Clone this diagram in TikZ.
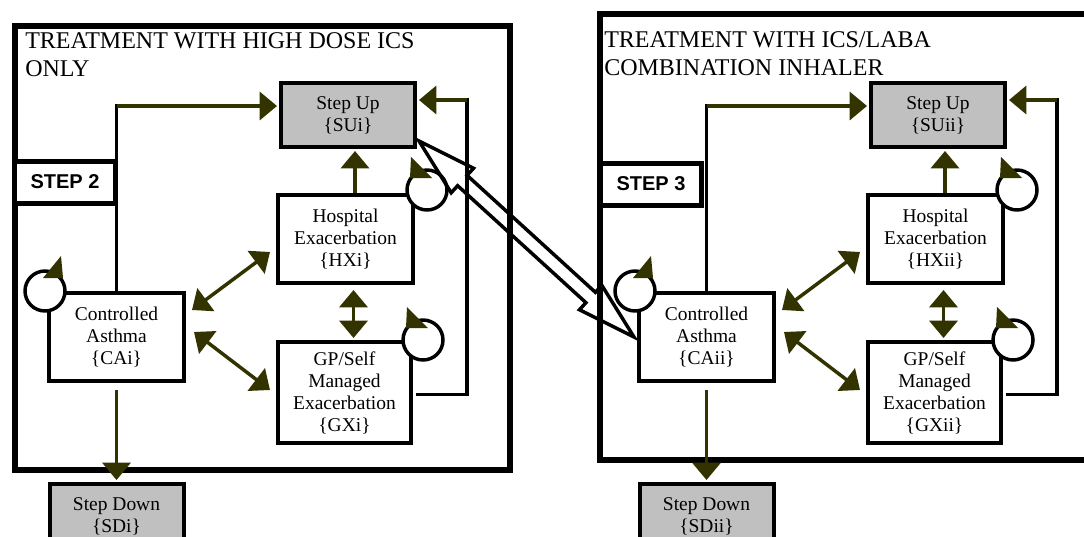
\documentclass[tikz,border=0pt]{standalone}
\usepackage{fontspec}
\setmainfont{Liberation Serif}
\newfontfamily\labelsans{Liberation Sans}
\usetikzlibrary{arrows.meta,calc}
\definecolor{arrowolive}{HTML}{333300}
\definecolor{boxgray}{HTML}{C0C0C0}

\begin{document}
\begin{tikzpicture}[x=0.75pt,y=-0.75pt,
  statebox/.style={draw=black, line width=3pt, fill=white, align=center,
    inner sep=0pt, font=\fontsize{14.6}{16.5}\selectfont},
  endbox/.style={statebox, fill=boxgray, minimum width=100.5pt, minimum height=48pt},
  flow/.style={draw=arrowolive, line width=2.6pt,
    -{Triangle[length=13pt,width=21pt]}},
  both/.style={draw=arrowolive, line width=2.6pt,
    {Triangle[length=13pt,width=21pt]}-{Triangle[length=13pt,width=21pt]}},
  wire/.style={draw=black, line width=2.4pt, line cap=rect},
  loopring/.style={draw=black, line width=2.6pt, fill=white},
  frame/.style={draw=black, line width=4pt},
  title/.style={anchor=base west, inner sep=0pt, font=\fontsize{18}{21}\selectfont},
  steplabel/.style={draw=black, line width=3.75pt, fill=white,
    minimum width=75.75pt, minimum height=31.5pt, inner sep=0pt,
    font=\labelsans\bfseries\fontsize{15}{18}\selectfont},
  hollow/.style={draw=black, line width=2.6pt, line join=miter}
]
\useasboundingbox (0,0) rectangle (1084,536);
\fill[white] (0,0) rectangle (1084,536);
\clip (0,0) rectangle (1084,536);

% treatment frames
\draw[frame] (15,26) rectangle (510,470);
\draw[frame] (600,14) rectangle (1100,460);

\node[title] (T1a) at (25,48) {TREATMENT WITH HIGH DOSE ICS};
\node[title] (T1b) at (25,76) {ONLY};
\node[title] (T2a) at (604,47) {TREATMENT WITH ICS/LABA};
\node[title] (T2b) at (604,75) {COMBINATION INHALER};

% the states of one treatment step
\foreach \dx/\s in {0/i,590/ii}{
  \node[endbox] (SU\s) at (348+\dx,115) {Step Up\\\{SU\s\}};
  \node[statebox, minimum width=101.25pt, minimum height=66pt] (HX\s)
    at (345.5+\dx,239) {Hospital\\Exacerbation\\\{HX\s\}};
  \node[statebox, minimum width=101.25pt, minimum height=66pt] (CA\s)
    at (116.5+\dx,337) {Controlled\\Asthma\\\{CA\s\}};
  \node[statebox, minimum width=99.75pt, minimum height=75.75pt] (GX\s)
    at (344.5+\dx,392.5) {GP/Self\\Managed\\Exacerbation\\\{GX\s\}};
  \node[endbox] (SD\s) at (116.5+\dx,516) {Step Down\\\{SD\s\}};

  % controlled asthma -> step up
  \coordinate (up\s) at ($(SU\s.west)+(-2,-9)$);
  \draw[wire] (CA\s.north) -- (CA\s.north |- up\s);
  \draw[flow] (CA\s.north |- up\s) -- (up\s);

  % hospital exacerbation -> step up
  \draw[flow] ($(HX\s.north)+(9.5,0)$) -- ($(SU\s.south)+(7,2)$);

  % self managed exacerbation -> step up
  \coordinate (fc\s) at (467+\dx,100);
  \coordinate (fb\s) at ($(SU\s.east)+(2,-15)$);
  \draw[wire] ($(GX\s.east)+(5,2)$) -| (fc\s);
  \draw[flow] (fc\s) -- (fb\s);

  % transitions between the states
  \draw[both] ($(CA\s.east)+(6,-27)$) -- ($(HX\s.west)+(-6,13)$);
  \draw[both] ($(CA\s.east)+(8,-5)$) -- ($(GX\s.west)+(-6,-2.5)$);
  \draw[both] ($(HX\s.south)+(8,5)$) -- ($(GX\s.north)+(9,-2)$);

  % controlled asthma -> step down
  \draw[flow] ($(CA\s.south)+(0,7)$) -- ($(SD\s.north)+(0,-2)$);

  % self loops
  \coordinate (Lca\s) at ($(CA\s.north west)+(-2,0)$);
  \coordinate (Lhx\s) at ($(HX\s.north east)+(12,-3)$);
  \coordinate (Lgx\s) at ($(GX\s.north east)+(10,0)$);
  \draw[loopring] (Lca\s) circle[radius=15pt];
  \draw[loopring] (Lhx\s) circle[radius=15pt];
  \draw[loopring] (Lgx\s) circle[radius=15pt];
  \fill[arrowolive, shift={(Lca\s)}] (16,-35) -- (18,-13) -- (-2,-13) -- cycle;
  \fill[arrowolive, shift={(Lhx\s)}] (-16,-33) -- (5,-12) -- (-17,-12) -- cycle;
  \fill[arrowolive, shift={(Lgx\s)}] (-16,-33) -- (5,-12) -- (-17,-12) -- cycle;
}

% step labels
\node[steplabel] (S2) at (65,182) {STEP 2};
\node[steplabel] (S3) at (651,184) {STEP 3};

% hollow double arrow linking the two steps
\coordinate (ha) at ($(SUi.south east)+(2,-8)$);
\coordinate (hb) at ($(CAii.west)+(-3,0)$);
\draw[hollow] (ha)
  -- ($(ha)!44pt!(hb)!12.4pt!90:(hb)$)
  -- ($(ha)!44pt!(hb)!5.25pt!90:(hb)$)
  -- ($(hb)!44pt!(ha)!5.25pt!-90:(ha)$)
  -- ($(hb)!44pt!(ha)!12.4pt!-90:(ha)$)
  -- (hb)
  -- ($(hb)!44pt!(ha)!12.4pt!90:(ha)$)
  -- ($(hb)!44pt!(ha)!5.25pt!90:(ha)$)
  -- ($(ha)!44pt!(hb)!5.25pt!-90:(hb)$)
  -- ($(ha)!44pt!(hb)!12.4pt!-90:(hb)$)
  -- cycle;
\end{tikzpicture}
\end{document}
